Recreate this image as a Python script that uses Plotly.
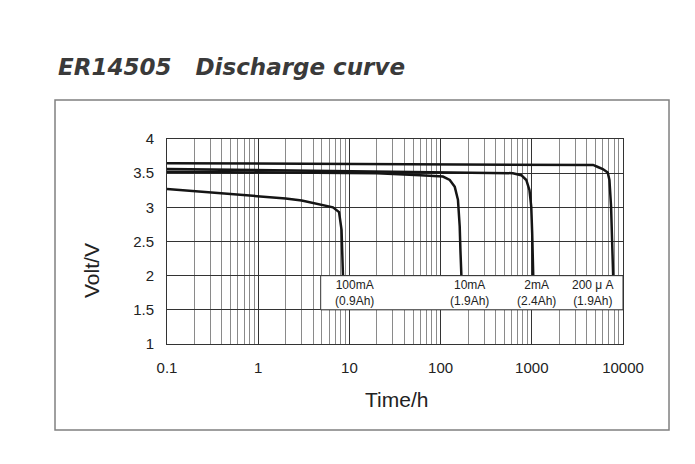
import plotly.graph_objects as go

# ---- data ----
t_200uA = [0.1, 1, 10, 100, 1000, 3000, 4700, 5300, 6000, 6800, 7100, 7400, 7600, 7800]
v_200uA = [3.645, 3.64, 3.638, 3.635, 3.63, 3.625, 3.62, 3.59, 3.56, 3.51, 3.40, 3.01, 2.62, 2.0]

t_2mA = [0.1, 1, 10, 100, 345, 620, 767, 870, 943, 986, 1010, 1037]
v_2mA = [3.56, 3.545, 3.53, 3.52, 3.51, 3.50, 3.47, 3.40, 3.25, 3.01, 2.62, 2.0]

t_10mA = [0.1, 1, 5, 20, 60, 106, 126, 143, 155, 162, 165, 169]
v_10mA = [3.52, 3.515, 3.505, 3.50, 3.47, 3.45, 3.40, 3.30, 3.11, 2.72, 2.37, 2.0]

t_100mA = [0.1, 0.3, 1, 2, 3, 4.8, 6.6, 7.7, 8.2, 8.5]
v_100mA = [3.27, 3.22, 3.17, 3.13, 3.10, 3.04, 3.0, 2.93, 2.67, 2.0]

series = [
    ("100mA", t_100mA, v_100mA),
    ("10mA", t_10mA, v_10mA),
    ("2mA", t_2mA, v_2mA),
    ("200uA", t_200uA, v_200uA),
]

label_lines = ["100mA<br>(0.9Ah)", "10mA<br>(1.9Ah)", "2mA<br>(2.4Ah)", "200 μ A<br>(1.9Ah)"]
label_x = [0.411, 0.664, 0.811, 0.934]  # paper fraction of plot width

x_tickvals = [0.1, 1, 10, 100, 1000, 10000]
x_ticktext = ["0.1", "1", "10", "100", "1000", "10000"]
y_tickvals = [1, 1.5, 2, 2.5, 3, 3.5, 4]
y_ticktext = ["1", "1.5", "2", "2.5", "3", "3.5", "4"]
minor_vals = [m * 10 ** e for e in range(-1, 4) for m in range(2, 10)]

fig = go.Figure()
for name, t, v in series:
    fig.add_trace(go.Scatter(x=t, y=v, mode="lines", name=name,
                             line=dict(color="#151515", width=2.5),
                             showlegend=False))

fig.update_layout(
    width=687, height=456,
    margin=dict(l=159, r=72, t=131, b=120),
    paper_bgcolor="white", plot_bgcolor="white",
    font=dict(family="Liberation Sans, Arial, sans-serif", color="#222"),
)

fig.update_xaxes(
    type="log", range=[-1, 4],
    tickvals=x_tickvals, ticktext=x_ticktext,
    tickfont=dict(size=15, color="#222"),
    ticks="outside", ticklen=10, tickcolor="rgba(0,0,0,0)",
    showgrid=True, gridcolor="#333", gridwidth=1,
    minor=dict(tickvals=minor_vals, showgrid=True, gridcolor="#8a8a8a",
               gridwidth=1, ticks=""),
    showline=True, linecolor="#333", linewidth=1, mirror=True,
    zeroline=False,
)
fig.update_yaxes(
    range=[1, 4],
    tickvals=y_tickvals, ticktext=y_ticktext,
    tickfont=dict(size=15, color="#222"),
    ticks="outside", ticklen=9, tickcolor="rgba(0,0,0,0)",
    showgrid=True, gridcolor="#333", gridwidth=1,
    showline=True, linecolor="#333", linewidth=1, mirror=True,
    zeroline=False,
)

# label box
fig.add_shape(type="rect", xref="x domain", yref="y",
              x0=0.337, x1=1.0, y0=1.5, y1=2.0,
              fillcolor="white", line=dict(color="#333", width=1),
              layer="above")

for txt, xp in zip(label_lines, label_x):
    fig.add_annotation(text=txt, xref="paper", yref="y", x=xp, y=1.75,
                       showarrow=False, xanchor="center", yanchor="middle",
                       font=dict(size=12, color="#222",
                                 family="Liberation Sans, Arial, sans-serif"))

# outer frame
fig.add_shape(type="rect", xref="paper", yref="paper",
              x0=-0.2456, x1=1.1009, y0=-0.4195, y1=1.190,
              line=dict(color="#808080", width=1.5), fillcolor="rgba(0,0,0,0)",
              layer="below")

# title
fig.add_annotation(text="<b><i>ER14505   Discharge curve</i></b>",
                   xref="paper", yref="paper", x=-0.243, y=1.351,
                   xanchor="left", yanchor="middle", showarrow=False,
                   font=dict(size=23, color="#3a3a3a",
                             family="DejaVu Sans, sans-serif"))

# axis titles
fig.add_annotation(text="Time/h", xref="paper", yref="paper", x=0.504, y=-0.273,
                   xanchor="center", yanchor="middle", showarrow=False,
                   font=dict(size=21, color="#222"))
fig.add_annotation(text="Volt/V", xref="paper", yref="paper", x=-0.1645, y=0.361,
                   xanchor="center", yanchor="middle", showarrow=False,
                   textangle=-90, font=dict(size=21, color="#222"))

fig.write_html("out.html")
